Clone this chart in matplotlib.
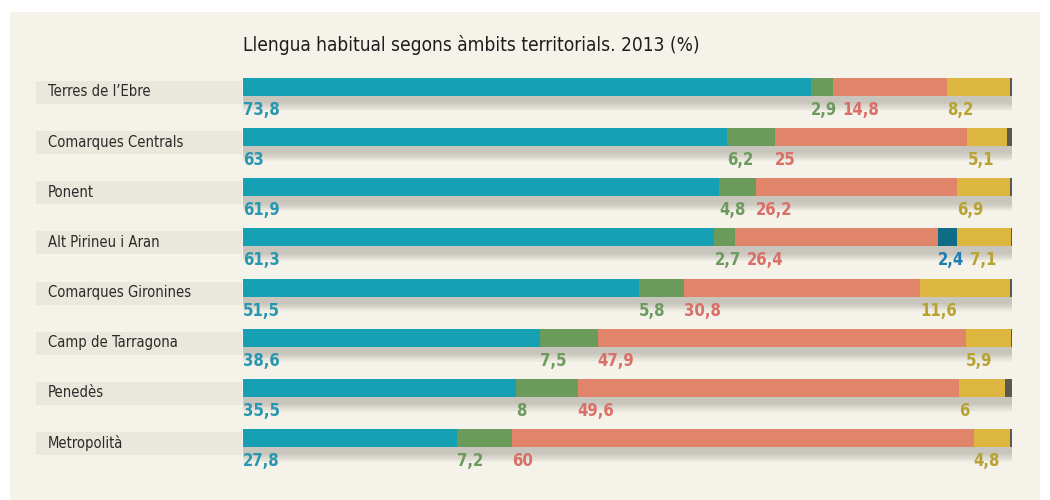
import matplotlib
matplotlib.use("Agg")
import matplotlib.pyplot as plt
from matplotlib.patches import Rectangle

categories = ["Terres de l\u2019Ebre", "Comarques Centrals", "Ponent", "Alt Pirineu i Aran",
              "Comarques Gironines", "Camp de Tarragona", "Pened\u00e8s", "Metropolit\u00e0"]
catala = [73.8, 63, 61.9, 61.3, 51.5, 38.6, 35.5, 27.8]
ambdues = [2.9, 6.2, 4.8, 2.7, 5.8, 7.5, 8, 7.2]
castella = [14.8, 25, 26.2, 26.4, 30.8, 47.9, 49.6, 60]
aranes = [0, 0, 0, 2.4, 0, 0, 0, 0]
altres = [8.2, 5.1, 6.9, 7.1, 11.6, 5.9, 6, 4.8]
resta = [0.3, 0.7, 0.2, 0.1, 0.3, 0.1, 0.9, 0.2]
title = "Llengua habitual segons \u00e0mbits territorials. 2013 (%)"

series = [catala, ambdues, castella, aranes, altres, resta]
bar_colors = ["#16a0b3", "#6a9b5a", "#e0856a", "#0e6c86", "#dcb63e", "#5b5a50"]
lab_colors = ["#2a97b1", "#6d9a5d", "#da6f68", "#1e7db0", "#b8a232", None]

W, H = 1050, 500
fig = plt.figure(figsize=(W / 100, H / 100), dpi=100)
fig.patch.set_facecolor("white")
fig.patches.append(Rectangle((10 / W, 0), (W - 20) / W, 1 - 12 / H, transform=fig.transFigure,
                             facecolor="#f4f2e9", edgecolor="none", zorder=-10))

x0, x1 = 243, 1012
ytop, ybot = 62, 480
ax = fig.add_axes([x0 / W, 1 - ybot / H, (x1 - x0) / W, (ybot - ytop) / H])
ax.set_xlim(0, 100)
step = (438 - 87) / 7
ax.set_ylim(7 + (ybot - 438) / step, -(87 - ytop) / step)
ax.axis("off")
ax.patch.set_alpha(0)

bh = 18 / step
px = 100 / (x1 - x0)
py = 1 / step

fig.canvas.draw()
renderer = fig.canvas.get_renderer()
COND = dict(family="DejaVu Sans", fontstretch="condensed")

for i, cat in enumerate(categories):
    fig.patches.append(Rectangle((36 / W, 1 - (87 + i * step + 17) / H), (242 - 36) / W, 23 / H,
                                 transform=fig.transFigure, facecolor="#eae7dc",
                                 edgecolor="none", zorder=-5))
    fig.text(48 / W, 1 - (87 + i * step + 5) / H, cat, fontsize=10.6, color="#2b2b2b",
             va="center", ha="left", **COND)
    total = sum(s[i] for s in series)
    for k in range(8):
        grow = (8 - k) * 1.6
        ax.add_patch(Rectangle((-2 * px, i - bh / 2 + (6 - grow * 0.3) * py),
                               total + (10 + grow) * px, bh + grow * py,
                               facecolor="#3a3a30", alpha=0.03, edgecolor="none", zorder=1))
    left = 0
    prev_end = None
    for s, bc, lc in zip(series, bar_colors, lab_colors):
        v = s[i]
        if v <= 0:
            continue
        ax.barh(i, v, left=left, height=bh, color=bc, edgecolor="none", zorder=3)
        if lc is not None:
            xs = left
            if prev_end is not None and xs < prev_end + 6 * px:
                xs = prev_end + 6 * px
            t = ax.text(xs, i + bh / 2 + 14 * py, f"{v:g}".replace(".", ","), fontsize=12,
                        fontweight="bold", color=lc, ha="left", va="center", zorder=4, **COND)
            bb = t.get_window_extent(renderer=renderer)
            prev_end = ax.transData.inverted().transform((bb.x1, 0))[0]
        left += v

fig.text(x0 / W, 1 - 45 / H, title, fontsize=13.7, color="#1e1e1e",
         va="center", ha="left", **COND)

fig.savefig("out.png", dpi=100, facecolor=fig.get_facecolor())
